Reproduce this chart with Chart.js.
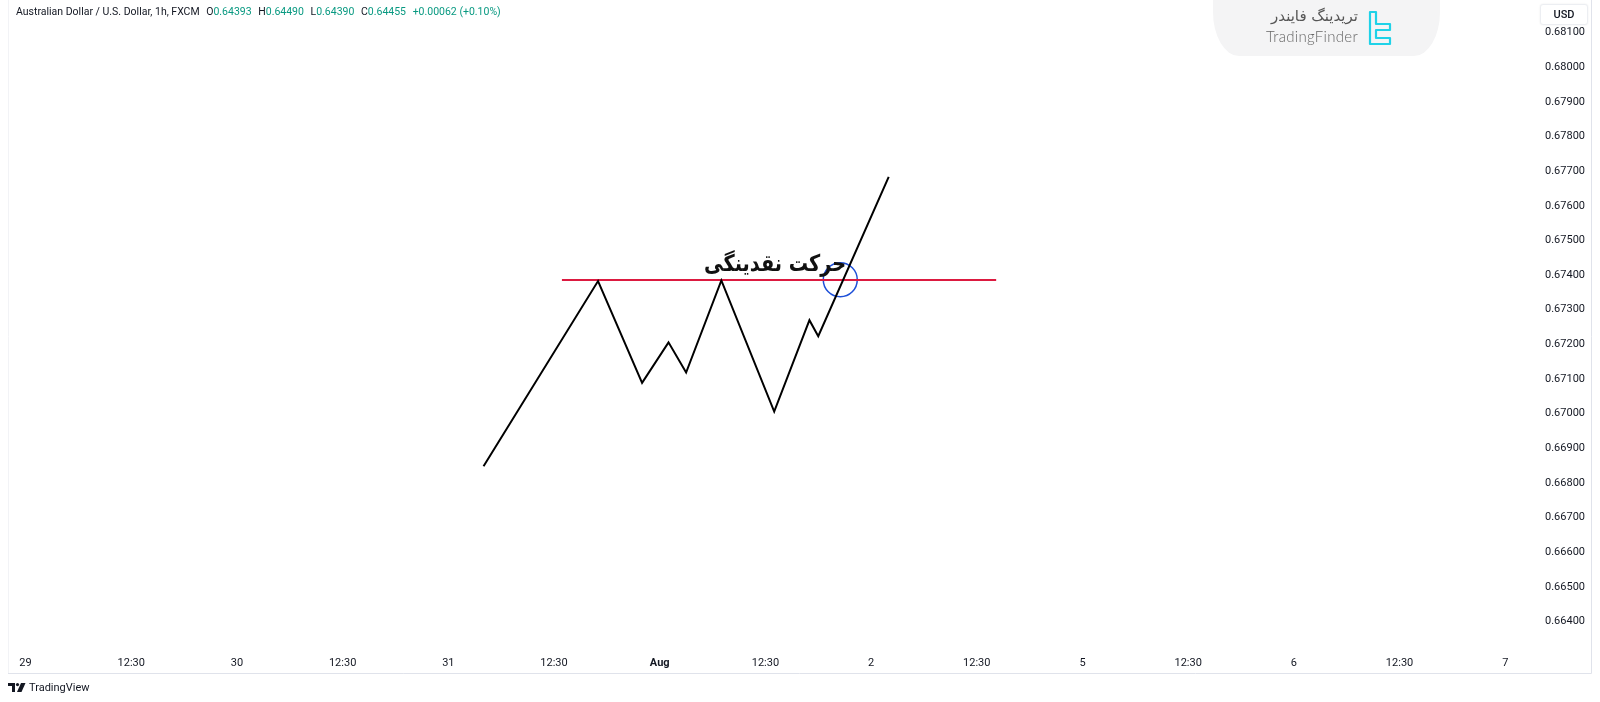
<!DOCTYPE html>
<html>
<head>
<meta charset="utf-8">
<script src="https://cdn.jsdelivr.net/npm/chart.js@4.4.1/dist/chart.umd.min.js"></script>
<style>
  html, body { margin: 0; padding: 0; background: #fff; }
  #wrap { position: relative; width: 1600px; height: 702px; overflow: hidden; }
  #chart { position: absolute; left: 0; top: 0; }
  .hdr { position: absolute; left: 16px; top: 5px; font: 10.5px Roboto, sans-serif; color: #131722; white-space: nowrap; }
  .hdr .g { color: #089981; }
  .hdr .k { margin-left: 4px; }
  .logo { position: absolute; left: 1213px; top: 0; width: 227px; height: 56px; background: #f4f4f5;
          border-radius: 0 0 26px 26px / 0 0 44px 44px; }
  .logo .fa { position: absolute; right: 82px; top: 7px; font: 15px "DejaVu Sans", sans-serif; color: #555; direction: rtl; }
  .logo .en { position: absolute; right: 82px; top: 27px; font: 300 15px Lato, sans-serif; color: #666; letter-spacing: 0.3px; }
  .logo svg { position: absolute; left: 154px; top: 10px; }
  .usd { position: absolute; left: 1540px; top: 4px; width: 46px; height: 19px; background: #fff; border: 1px solid #eceef2;
         border-radius: 3px; box-shadow: 0 0 2px rgba(0,0,0,0.08); font: 500 11px Roboto, sans-serif; color: #131722;
         text-align: center; line-height: 19px; }
  .tv { position: absolute; left: 8px; top: 681px; font: 11px Roboto, sans-serif; color: #131722; }
  .tv svg { vertical-align: -1px; margin-right: 3px; }
</style>
</head>
<body>
<div id="wrap">
  <canvas id="chart"></canvas>
  <div class="hdr">Australian Dollar / U.S. Dollar, 1h, FXCM
    <span class="k">O</span><span class="g">0.64393</span>
    <span class="k">H</span><span class="g">0.64490</span>
    <span class="k">L</span><span class="g">0.64390</span>
    <span class="k">C</span><span class="g">0.64455</span>
    <span class="g k">+0.00062 (+0.10%)</span>
  </div>
  <div class="logo">
    <div class="fa">تریدینگ فایندر</div>
    <div class="en">TradingFinder</div>
    <svg width="26" height="36" viewBox="0 0 26 36">
      <path d="M3 2 h6 v12 h14 v6 h-14 v8 h14 v6 h-20 z" fill="none" stroke="#1fd2e8" stroke-width="2.2" stroke-linejoin="round"/>
    </svg>
  </div>
  <div class="usd">USD</div>
  <div class="tv"><svg width="18" height="9" viewBox="0 0 18 9">
      <path d="M0 0 h7 v9 h-3 v-6 h-4 z" fill="#131722"/><circle cx="9.5" cy="1.6" r="1.6" fill="#131722"/>
      <path d="M13 0 h4.5 l-4 9 h-4.5 z" fill="#131722"/></svg>TradingView</div>
</div>
<script>
// time axis: x in hours from the "29" label, one label every 12 bars
const timeLabels = ['29', '12:30', '30', '12:30', '31', '12:30', 'Aug', '12:30', '2', '12:30', '5', '12:30', '6', '12:30', '7'];
const priceTicks = [0.664, 0.665, 0.666, 0.667, 0.668, 0.669, 0.670, 0.671, 0.672, 0.673, 0.674, 0.675, 0.676, 0.677, 0.678, 0.679, 0.680, 0.681];

// the zigzag path
const pathHours = [52, 65, 70, 73, 75, 79, 85, 89, 90, 98];
const pathPrices = [0.66842, 0.67377, 0.67083, 0.67200, 0.67113, 0.67379, 0.67000, 0.67264, 0.67218, 0.67678];

// liquidity level and the breakout marker
const levelHours = [60.9, 110.2];
const levelPrice = 0.6738;
const markerHour = 92.5;
const markerPrice = 0.67381;

const noteText = 'حرکت نقدینگی';
const noteHour = 85.1;
const notePrice = 0.67405;

const frameColor = '#e0e3eb';

// draws the outer frame and the Persian note
const extras = {
  id: 'extras',
  afterDatasetsDraw(chart) {
    const ctx = chart.ctx;
    ctx.save();
    ctx.strokeStyle = frameColor;
    ctx.lineWidth = 1;
    ctx.beginPath();
    ctx.moveTo(8, 673.5);
    ctx.lineTo(1591.5, 673.5);
    ctx.lineTo(1591.5, 0);
    ctx.stroke();
    ctx.strokeStyle = '#f2f3f6';
    ctx.beginPath();
    ctx.moveTo(8.5, 0);
    ctx.lineTo(8.5, 673);
    ctx.stroke();

    const x = chart.scales.x.getPixelForValue(noteHour);
    const y = chart.scales.y.getPixelForValue(notePrice);
    ctx.font = 'bold 23px "DejaVu Sans", sans-serif';
    ctx.fillStyle = '#111';
    ctx.textAlign = 'center';
    ctx.textBaseline = 'alphabetic';
    ctx.direction = 'rtl';
    ctx.fillText(noteText, x, y, 142);
    ctx.restore();
  }
};

function labelFor(v) {
  return timeLabels[Math.round(v / 12)];
}

new Chart(document.getElementById('chart'), {
  type: 'line',
  data: {
    datasets: [
      {
        data: pathHours.map((h, i) => ({ x: h, y: pathPrices[i] })),
        borderColor: '#000',
        borderWidth: 2,
        pointRadius: 0,
        tension: 0
      },
      {
        data: levelHours.map(h => ({ x: h, y: levelPrice })),
        borderColor: '#dc1a40',
        borderWidth: 2,
        pointRadius: 0
      },
      {
        data: [{ x: markerHour, y: markerPrice }],
        showLine: false,
        pointRadius: 17,
        pointBorderColor: '#1d4fd8',
        pointBorderWidth: 1.5,
        pointBackgroundColor: 'rgba(0,0,0,0)'
      }
    ]
  },
  options: {
    responsive: true,
    maintainAspectRatio: false,
    animation: false,
    events: [],
    layout: { autoPadding: false, padding: { left: 8, top: 0, right: 9, bottom: 29 } },
    plugins: { legend: { display: false }, tooltip: { enabled: false } },
    scales: {
      x: {
        type: 'linear',
        min: -1.99,
        max: 171.83,
        afterFit(scale) {
          scale.height = 23;
          scale.paddingLeft = 0;
          scale.paddingRight = 0;
        },
        afterBuildTicks(scale) {
          scale.ticks = timeLabels.map((t, i) => ({ value: i * 12 }));
        },
        grid: { display: false, drawTicks: false },
        border: { display: false },
        ticks: {
          autoSkip: false,
          maxRotation: 0,
          padding: 7,
          color: '#131722',
          font: ctx => ({
            family: 'Roboto, sans-serif',
            size: 11,
            weight: (ctx.tick && labelFor(ctx.tick.value) === 'Aug') ? 'bold' : 'normal'
          }),
          callback: v => labelFor(v)
        }
      },
      y: {
        type: 'linear',
        position: 'right',
        min: 0.663116,
        max: 0.681887,
        afterFit(scale) {
          scale.width = 52;
          scale.paddingTop = 0;
          scale.paddingBottom = 0;
        },
        afterBuildTicks(scale) {
          scale.ticks = priceTicks.map(v => ({ value: v }));
        },
        grid: { display: false, drawTicks: false },
        border: { display: false },
        ticks: {
          padding: 6,
          labelOffset: 2,
          color: '#131722',
          font: { family: 'Roboto, sans-serif', size: 11 },
          callback: v => v.toFixed(5)
        }
      }
    }
  },
  plugins: [extras]
});
</script>
</body>
</html>
